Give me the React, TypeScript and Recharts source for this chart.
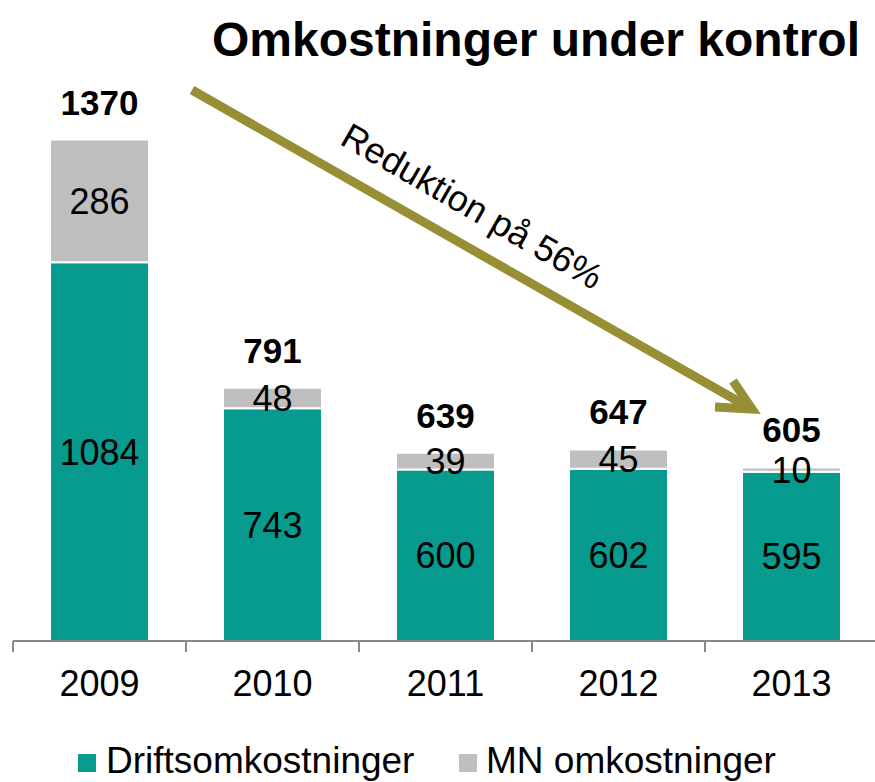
import React from 'react';
import { BarChart, Bar, XAxis, YAxis, LabelList } from 'recharts';

const years = ['2009', '2010', '2011', '2012', '2013'];
const drift = [1084, 743, 600, 602, 595];
const mn = [286, 48, 39, 45, 10];
const totals = [1370, 791, 639, 647, 605];
const seriesNames = ['Driftsomkostninger', 'MN omkostninger'];
const titleText = 'Omkostninger under kontrol';
const arrowText = 'Reduktion på 56%';

const data = years.map((y, i) => ({ year: y, drift: drift[i], mn: mn[i], total: totals[i] }));

const FONT = '"Liberation Sans", Arial, Helvetica, sans-serif';
const TEAL = '#069B8E';
const GREY = '#BFBFBF';
const OLIVE = '#978F34';
const AXIS = '#898989';
const W = 875;
const H = 782;
const MARGIN = { top: 41, right: 0, left: 13, bottom: 81 };
const XAXIS_H = 60;
const PLOT_BOTTOM = H - MARGIN.bottom - XAXIS_H;
const BAND = (878 - MARGIN.left) / years.length;

const Tick = (props: any) => {
  const { x, y, payload } = props;
  const bx = x - BAND / 2;
  return (
    <g>
      <line x1={bx} x2={bx} y1={y} y2={y + 11} stroke={AXIS} strokeWidth={2} />
      <text x={x} y={y + 55} textAnchor="middle" fontSize={36} fontFamily={FONT} fill="#000">
        {payload.value}
      </text>
    </g>
  );
};

const SegLabel = (props: any) => {
  const { x, y, width, height, value } = props;
  const top = Math.min(y, y + height);
  const bot = Math.min(Math.max(y, y + height), PLOT_BOTTOM);
  const cy = (top + bot) / 2;
  return (
    <text x={x + width / 2} y={cy} dy="0.36em" textAnchor="middle" fontSize={36} fontFamily={FONT} fill="#000">
      {value}
    </text>
  );
};

const TotalLabel = (props: any) => {
  const { x, y, width, value } = props;
  return (
    <text x={x + width / 2} y={y - 25} textAnchor="middle" fontSize={35} fontWeight="bold" fontFamily={FONT} fill="#000">
      {value}
    </text>
  );
};

export default function App() {
  return (
    <div style={{ position: 'absolute', left: 0, top: 0, width: W, height: H, overflow: 'hidden', background: '#fff' }}>
      <BarChart width={878} height={H} data={data} margin={MARGIN}>
        <YAxis hide domain={[200, 1600]} allowDataOverflow type="number" />
        <XAxis
          dataKey="year"
          height={XAXIS_H}
          axisLine={{ stroke: AXIS, strokeWidth: 2 }}
          tickLine={false}
          tickSize={0}
          tickMargin={0}
          interval={0}
          tick={<Tick />}
        />
        <Bar dataKey="drift" stackId="a" fill={TEAL} stroke="#fff" strokeWidth={2} barSize={99} isAnimationActive={false}>
          <LabelList dataKey="drift" content={<SegLabel />} />
        </Bar>
        <Bar dataKey="mn" stackId="a" fill={GREY} stroke="#fff" strokeWidth={2} barSize={99} isAnimationActive={false}>
          <LabelList dataKey="mn" content={<SegLabel />} />
          <LabelList dataKey="total" content={<TotalLabel />} />
        </Bar>
      </BarChart>
      <svg
        width={W}
        height={H}
        style={{ position: 'absolute', left: 0, top: 0, pointerEvents: 'none' }}
        fontFamily={FONT}
      >
        <text x={860} y={56} textAnchor="end" fontSize={48} fontWeight="bold" fill="#000">
          {titleText}
        </text>
        <line x1={192} y1={90} x2={750} y2={408} stroke={OLIVE} strokeWidth={9} />
        <polyline
          points="733,381 752,409 715,407"
          fill="none"
          stroke={OLIVE}
          strokeWidth={9}
          strokeLinejoin="miter"
        />
        <text x={466} y={217} textAnchor="middle" fontSize={36} fill="#000" transform="rotate(30 466 217)">
          {arrowText}
        </text>
        <rect x={78} y={754} width={18} height={18} fill={TEAL} />
        <text x={106} y={773} fontSize={37} fill="#000">{seriesNames[0]}</text>
        <rect x={459} y={754} width={18} height={18} fill={GREY} />
        <text x={486} y={773} fontSize={37} fill="#000">{seriesNames[1]}</text>
      </svg>
    </div>
  );
}
